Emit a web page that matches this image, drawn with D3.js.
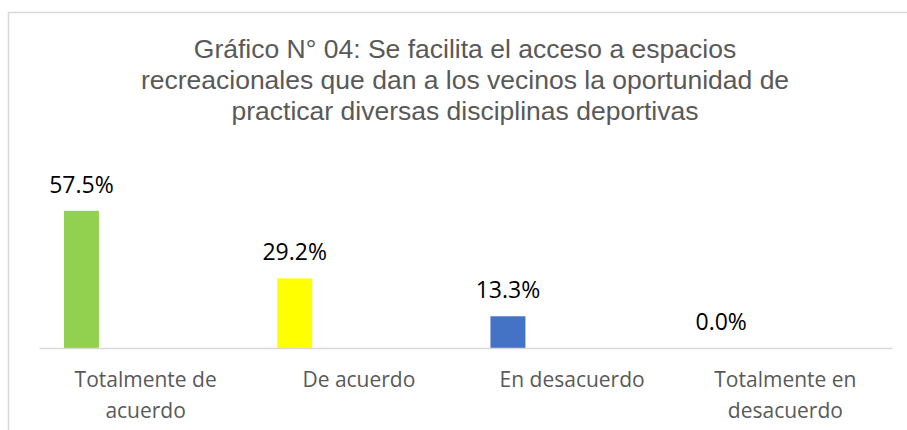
<!DOCTYPE html>
<html>
<head>
<meta charset="utf-8">
<script src="https://cdn.jsdelivr.net/npm/d3@7"></script>
<style>
  body { margin: 0; background: #fff; }
  svg { display: block; }
</style>
</head>
<body>
<div id="plot"></div>
<script>
const categories = ["Totalmente de acuerdo", "De acuerdo", "En desacuerdo", "Totalmente en desacuerdo"];
const tickLines = [["Totalmente de", "acuerdo"], ["De acuerdo"], ["En desacuerdo"], ["Totalmente en", "desacuerdo"]];
const values = [57.5, 29.2, 13.3, 0.0];
const barColors = ["#92D050", "#FFFF00", "#4472C4", "#A5A5A5"];
const titleLines = [
  "Gráfico N° 04: Se facilita el acceso a espacios",
  "recreacionales que dan a los vecinos la oportunidad de",
  "practicar diversas disciplinas deportivas"
];

const width = 907, height = 430;
const margin = {top: 181, right: 15, bottom: 82, left: 39};

var svg = d3.select("#plot")
  .append("svg")
  .attr("width", width)
  .attr("height", height);

// chart frame
svg.append("path")
  .attr("d", "M8.5," + height + "V12.5H" + width)
  .attr("fill", "none")
  .attr("stroke", "#D9D9D9")
  .attr("stroke-width", 1.5);

// title
svg.append("text")
  .attr("text-anchor", "middle")
  .style("font-family", "'Liberation Sans', Arial, sans-serif")
  .style("font-size", "26.5px")
  .attr("fill", "#595959")
  .selectAll("tspan")
  .data(titleLines)
  .enter()
  .append("tspan")
    .attr("x", 465)
    .attr("y", function (d, i) { return 58 + i * 31; })
    .text(function (d) { return d; });

var x = d3.scaleBand()
  .domain(categories)
  .range([margin.left, width - margin.right]);

var y = d3.scaleLinear()
  .domain([0, 70])
  .range([height - margin.bottom, margin.top]);

// bar sits left inside its band (single series of a clustered layout)
var barOffset = x.bandwidth() * 0.117;
var barWidth = x.bandwidth() * 0.164;

svg.append("g")
  .selectAll("rect")
  .data(values)
  .enter()
  .append("rect")
    .attr("x", function (d, i) { return x(categories[i]) + barOffset; })
    .attr("y", function (d) { return y(d); })
    .attr("width", barWidth)
    .attr("height", function (d) { return y(0) - y(d); })
    .attr("fill", function (d, i) { return barColors[i]; });

// value labels
svg.append("g")
  .selectAll("text")
  .data(values)
  .enter()
  .append("text")
    .attr("x", function (d, i) { return x(categories[i]) + barOffset + barWidth / 2; })
    .attr("y", function (d) { return y(d) - 18; })
    .attr("text-anchor", "middle")
    .style("font-family", "'Open Sans', sans-serif")
    .style("font-size", "23px")
    .attr("fill", "#000")
    .text(function (d) { return d.toFixed(1) + "%"; });

// x axis
var xAxis = svg.append("g")
  .attr("transform", "translate(0," + y(0) + ")")
  .call(d3.axisBottom(x).tickSize(0).tickSizeOuter(0).tickFormat(""));

xAxis.select(".domain")
  .attr("stroke", "#D9D9D9")
  .attr("stroke-width", 1.5);

xAxis.selectAll(".tick text").remove();
xAxis.selectAll(".tick")
  .append("text")
  .attr("text-anchor", "middle")
  .style("font-family", "'Open Sans', sans-serif")
  .style("font-size", "21px")
  .attr("fill", "#595959")
  .each(function (d, i) {
    d3.select(this).selectAll("tspan")
      .data(tickLines[i])
      .enter()
      .append("tspan")
        .attr("x", 0)
        .attr("y", function (t, j) { return 39 + j * 31; })
        .text(function (t) { return t; });
  });
</script>
</body>
</html>
